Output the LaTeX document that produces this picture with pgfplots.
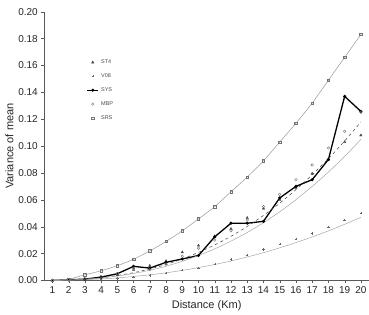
\documentclass[border=0pt]{standalone}
\usepackage{fontspec}
\setmainfont{Liberation Sans}
\usepackage{pgfplots}
\pgfplotsset{compat=1.18}
\usepackage{pgfplotstable}
\pgfplotstableread{
x SRS V08 SYS ST4 MBP FA FB FV
1 0 0 0 0 0 0.00007 0.00006 0.00005
2 0.001 0.0003 0.0005 0.0005 0.0008 0.00037 0.00033 0.00024
3 0.0042 0.0006 0.001 0.001 0.0015 0.00103 0.00092 0.0006
4 0.0072 0.001 0.0025 0.002 0.003 0.0021 0.0019 0.0012
5 0.011 0.0015 0.005 0.004 0.005 0.0037 0.0033 0.0019
6 0.0158 0.0025 0.0105 0.008 0.009 0.0058 0.0052 0.003
7 0.022 0.0037 0.0092 0.011 0.008 0.0086 0.0076 0.0042
8 0.029 0.0054 0.0135 0.0145 0.012 0.0119 0.0106 0.0057
9 0.037 0.0077 0.016 0.021 0.018 0.016 0.0143 0.0075
10 0.0458 0.0094 0.0186 0.026 0.024 0.0209 0.0186 0.0096
11 0.055 0.0124 0.0325 0.033 0.030 0.0265 0.0235 0.0119
12 0.066 0.0156 0.0426 0.0384 0.037 0.0329 0.0293 0.0145
13 0.077 0.0188 0.0426 0.0466 0.045 0.0402 0.0357 0.0175
14 0.089 0.023 0.044 0.0535 0.055 0.0484 0.043 0.0207
15 0.103 0.027 0.0614 0.060 0.064 0.0575 0.0511 0.0243
16 0.117 0.031 0.070 0.069 0.075 0.0676 0.0601 0.0282
17 0.132 0.035 0.075 0.0795 0.086 0.0787 0.070 0.0324
18 0.149 0.040 0.090 0.090 0.0986 0.0907 0.0807 0.0369
19 0.166 0.0448 0.137 0.103 0.111 0.1038 0.0923 0.0418
20 0.183 0.050 0.1258 0.108 0.125 0.118 0.105 0.047
}\data
\begin{document}
\begin{tikzpicture}[x=1pt,y=1pt]
\begin{axis}[
  scale only axis,
  width=325pt, height=269pt,
  xmin=0.5, xmax=20.5, ymin=0, ymax=0.2,
  axis x line*=bottom, axis y line*=left,
  axis line style={gray!70!black, line width=0.5pt},
  xtick={1,...,20},
  ytick={0,0.02,...,0.2},
  tick style={gray!70!black},
  tick align=outside,
  major tick length=3pt,
  yticklabel style={/pgf/number format/.cd, fixed, fixed zerofill, precision=2},
  /pgf/number format/assume math mode=true,
  ticklabel style={font=\fontsize{10}{12}\selectfont, text=black!85},
  xlabel={Distance (Km)},
  ylabel={Variance of mean},
  label style={font=\fontsize{11}{13}\selectfont, text=black!85},
  xlabel style={yshift=0pt},
  ylabel style={yshift=-2pt},
  legend style={draw=none, fill=none, font=\fontsize{5.5}{6}\selectfont\upshape, text=black!70,
    at={(0.12,0.837)}, anchor=north west, row sep=4.6pt},
  legend cell align=left,
  legend image code/.code={\draw[only marks] plot coordinates {(0.2cm,0cm)};},
]
\addplot[only marks, mark=triangle*, mark size=1.4pt, mark options={fill=black!70, draw=black!70}] table[x=x,y=ST4]{\data};
\addlegendentry{ST4}
\addplot[only marks, mark=+, mark size=1.2pt, mark options={draw=black!60}] table[x=x,y=V08]{\data};
\addlegendentry{V08}
\addplot[black, line width=1.3pt, mark=*, mark size=0.8pt,
  legend image code/.code={\draw[line width=1.3pt] (0cm,0cm) -- (0.4cm,0cm); \draw[only marks] plot coordinates {(0.2cm,0cm)};}] table[x=x,y=SYS]{\data};
\addlegendentry{SYS}
\addplot[only marks, mark=o, mark size=1.3pt, mark options={draw=black!55}] table[x=x,y=MBP]{\data};
\addlegendentry{MBP}
\addplot[gray!80, line width=0.5pt, smooth, mark=square, mark size=1.2pt, mark options={draw=black!55}] table[x=x,y=SRS]{\data};
\addlegendentry{SRS}
\addplot[black!75, dashed, line width=0.5pt, smooth, forget plot] table[x=x,y=FA]{\data};
\addplot[gray!70, line width=0.5pt, smooth, forget plot] table[x=x,y=FB]{\data};
\addplot[gray!70, line width=0.5pt, smooth, forget plot] table[x=x,y=FV]{\data};
\end{axis}
\pgfresetboundingbox
\path ([shift={(-44.3pt,-34pt)}]current axis.south west) rectangle ([shift={(0pt,11.7pt)}]current axis.north east);
\end{tikzpicture}
\end{document}
